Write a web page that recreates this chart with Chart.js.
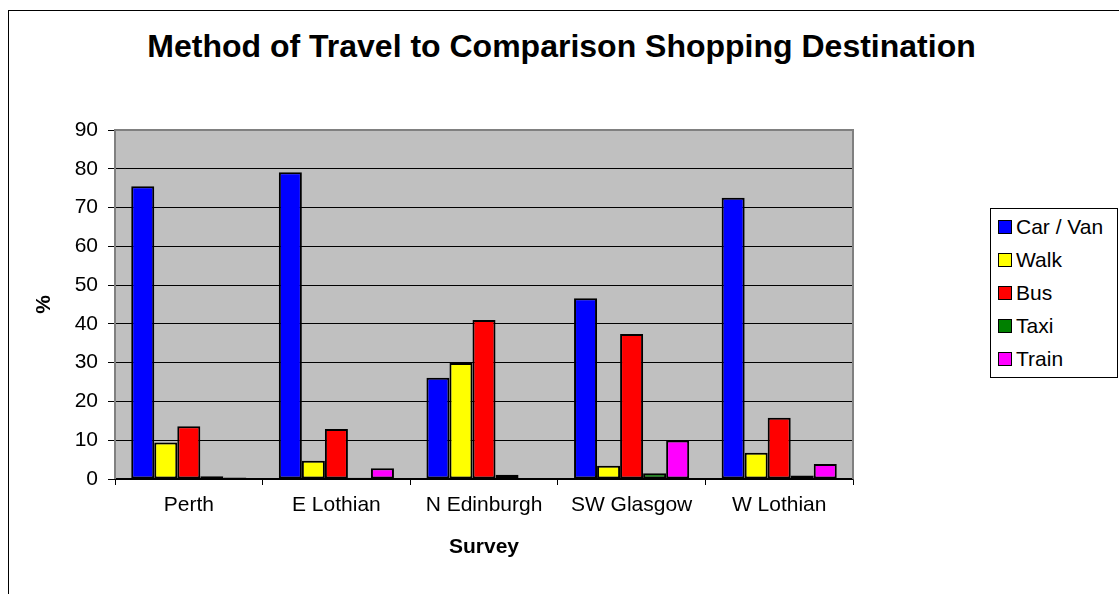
<!DOCTYPE html>
<html>
<head>
<meta charset="utf-8">
<script src="https://cdn.jsdelivr.net/npm/chart.js@4"></script>
<style>
  html, body { margin: 0; padding: 0; background: #fff; overflow: hidden; }
  body { width: 1119px; height: 594px; position: relative; font-family: "Liberation Sans", Arial, sans-serif; }
  #frame { position: absolute; left: 8px; top: 10px; width: 2000px; height: 2000px; border-left: 1px solid #000; border-top: 1px solid #000; }
  #title { position: absolute; left: 0; width: 1123px; top: 26px; text-align: center; font-weight: bold; font-size: 32px; line-height: 40px; color: #000; }
  #chart-wrap { position: absolute; left: 0; top: 0; width: 1119px; height: 594px; }
  #legend { position: absolute; left: 990px; top: 208px; width: 126px; height: 168px; border: 1px solid #000; background: #fff; }
  .lg-row { position: absolute; left: 7px; height: 24px; display: flex; align-items: center; font-size: 21px; color: #000; white-space: nowrap; }
  .lg-box { width: 12px; height: 12px; border: 1.5px solid #000; margin-right: 4px; }
</style>
</head>
<body>
<div id="frame"></div>
<div id="title">Method of Travel to Comparison Shopping Destination</div>
<div id="chart-wrap"><canvas id="chart" width="1119" height="594"></canvas></div>
<div id="legend"></div>
<script>
// Survey areas (x categories)
const SURVEYS = ['Perth', 'E Lothian', 'N Edinburgh', 'SW Glasgow', 'W Lothian'];

// % of respondents per method
const CAR_VAN = [75.5, 79.1, 26.1, 46.6, 72.5];
const WALK    = [9.4, 4.7, 29.9, 3.4, 6.8];
const BUS     = [13.6, 12.9, 41.0, 37.4, 15.8];
const TAXI    = [0.7, 0.3, 1.1, 1.5, 0.9];
const TRAIN   = [0.4, 2.8, 0, 9.9, 3.9];

const SERIES = [
  { label: 'Car / Van', data: CAR_VAN, color: '#0000FF' },
  { label: 'Walk',      data: WALK,    color: '#FFFF00' },
  { label: 'Bus',       data: BUS,     color: '#FF0000' },
  { label: 'Taxi',      data: TAXI,    color: '#008000' },
  { label: 'Train',     data: TRAIN,   color: '#FF00FF' },
];

const FONT = '"Liberation Sans", Arial, sans-serif';

// grey plot area + border, like the old spreadsheet chart
const plotFrame = {
  id: 'plotFrame',
  beforeDraw(chart) {
    const { ctx, chartArea: a } = chart;
    ctx.save();
    ctx.fillStyle = '#C0C0C0';
    ctx.fillRect(a.left, a.top, a.right - a.left, a.bottom - a.top);
    ctx.restore();
  },
  beforeDatasetsDraw(chart) {
    const { ctx, chartArea: a } = chart;
    ctx.save();
    ctx.strokeStyle = '#808080';
    ctx.lineWidth = 2;
    ctx.beginPath();
    ctx.moveTo(a.left, a.bottom);
    ctx.lineTo(a.left, a.top);
    ctx.lineTo(a.right, a.top);
    ctx.lineTo(a.right, a.bottom);
    ctx.stroke();
    ctx.restore();
  }
};

new Chart(document.getElementById('chart'), {
  type: 'bar',
  data: {
    labels: SURVEYS,
    datasets: SERIES.map(s => ({
      label: s.label,
      data: s.data,
      backgroundColor: s.color,
      borderColor: '#000',
      borderWidth: 2,
      borderSkipped: false,
      categoryPercentage: 0.78,
      barPercentage: 1,
    }))
  },
  options: {
    responsive: false,
    animation: false,
    layout: { padding: { top: 130, left: 20, right: 266, bottom: 34.4 } },
    plugins: {
      legend: { display: false },
      title: { display: false },
      tooltip: { enabled: false }
    },
    scales: {
      x: {
        afterFit: s => { s.height = 80.6; },
        grid: { offset: true, drawOnChartArea: false, drawTicks: true, tickLength: 6, tickColor: '#000', tickWidth: 1 },
        border: { display: true, color: '#000', width: 1.5 },
        ticks: { color: '#000', font: { family: FONT, size: 21 }, padding: 8, maxRotation: 0 },
        title: { display: true, text: 'Survey', color: '#000', font: { family: FONT, size: 21, weight: 'bold' }, padding: { top: 0, bottom: 0 } }
      },
      y: {
        min: 0, max: 90,
        afterFit: s => { s.width = 95; },
        grid: { color: '#000', lineWidth: 1, drawTicks: true, tickLength: 7, tickColor: '#000' },
        border: { display: false },
        ticks: { stepSize: 10, color: '#000', font: { family: FONT, size: 21 }, padding: 10 },
        title: { display: true, text: '%', color: '#000', font: { family: FONT, size: 21, weight: 'bold' }, padding: { top: 12, bottom: 0 } }
      }
    }
  },
  plugins: [plotFrame]
});

// legend box on the right
const lg = document.getElementById('legend');
SERIES.forEach((s, i) => {
  const row = document.createElement('div');
  row.className = 'lg-row';
  row.style.top = (6 + i * 33) + 'px';
  row.innerHTML = `<span class="lg-box" style="background:${s.color}"></span>${s.label}`;
  lg.appendChild(row);
});
</script>
</body>
</html>
